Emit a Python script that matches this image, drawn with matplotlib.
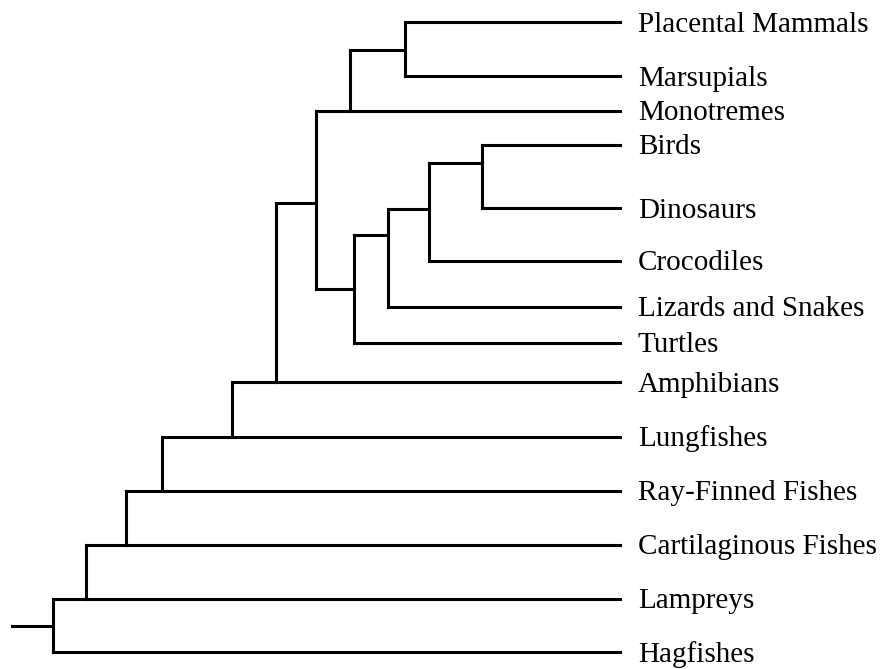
import matplotlib
matplotlib.use("Agg")
import matplotlib.pyplot as plt

# Leaves
leaf_names = ["Placental Mammals", "Marsupials", "Monotremes", "Birds", "Dinosaurs",
              "Crocodiles", "Lizards and Snakes", "Turtles", "Amphibians", "Lungfishes",
              "Ray-Finned Fishes", "Cartilaginous Fishes", "Lampreys", "Hagfishes"]
leaf_y = [22, 76, 111, 145, 208, 261, 307, 343, 382, 437, 491, 545, 599, 652]
leaf_x = 620

# Internal nodes: name -> (x, y), children
node_names = ["PM", "Mam", "Arch", "Croc", "Lep", "Rep", "Amn", "Tet", "Sarc", "Ost", "Gna", "Vert", "Root"]
node_x = [405, 350, 482, 429, 388, 354, 316, 276, 232, 162, 126, 86, 53]
node_y = [50, 111, 163, 209, 235, 289, 203, 382, 437, 491, 545, 599, 626]
node_children = [
    ["Placental Mammals", "Marsupials"],
    ["PM", "Monotremes"],
    ["Birds", "Dinosaurs"],
    ["Arch", "Crocodiles"],
    ["Croc", "Lizards and Snakes"],
    ["Lep", "Turtles"],
    ["Mam", "Rep"],
    ["Amn", "Amphibians"],
    ["Tet", "Lungfishes"],
    ["Sarc", "Ray-Finned Fishes"],
    ["Ost", "Cartilaginous Fishes"],
    ["Gna", "Lampreys"],
    ["Vert", "Hagfishes"],
]
root_stem_x = 12

pos = {n: (leaf_x, y) for n, y in zip(leaf_names, leaf_y)}
pos.update({n: (x, y) for n, x, y in zip(node_names, node_x, node_y)})

fig = plt.figure(figsize=(8.81, 6.69), dpi=100)
ax = fig.add_axes([0, 0, 1, 1])
ax.set_xlim(0, 881)
ax.set_ylim(669, 0)
ax.axis("off")

lw = 2.2
for n, kids in zip(node_names, node_children):
    x, y = pos[n]
    ys = [pos[k][1] for k in kids]
    ax.plot([x, x], [min(ys), max(ys)], color="black", lw=lw, solid_capstyle="projecting")
    for k in kids:
        kx, ky = pos[k]
        ax.plot([x, kx], [ky, ky], color="black", lw=lw, solid_capstyle="projecting")

rx, ry = pos["Root"]
ax.plot([root_stem_x, rx], [ry, ry], color="black", lw=lw, solid_capstyle="projecting")

for n, y in zip(leaf_names, leaf_y):
    ax.text(638, y + 9.5, n, fontsize=21, family="Liberation Serif", va="baseline", ha="left")

fig.savefig("out.png", dpi=100)
